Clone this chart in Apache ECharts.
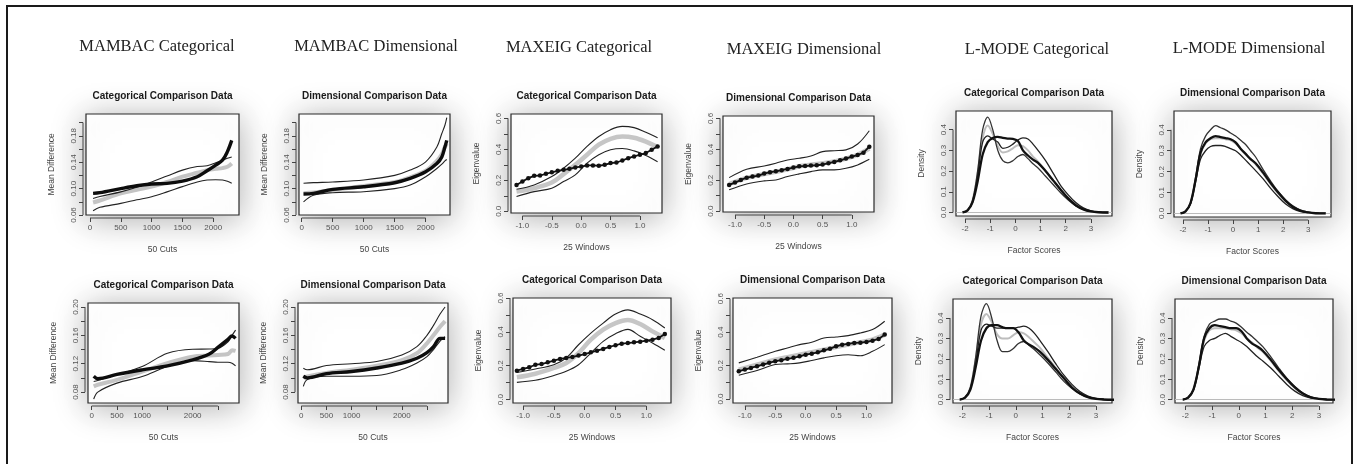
<!DOCTYPE html>
<html>
<head>
<meta charset="utf-8">
<title>Taxometric comparison data</title>
<script src="https://cdn.jsdelivr.net/npm/echarts@6.0.0/dist/echarts.min.js"></script>
<style>
  html, body { margin: 0; padding: 0; background: #fff; }
  #main { width: 1357px; height: 464px; }
</style>
</head>
<body>
<div id="main"></div>
<script>
// ---- MAMBAC (50 cuts) ----
const mambacTopCatX = [50, 160, 500, 760, 1000, 1250, 1500, 1740, 1900, 2040, 2150, 2230, 2300];
const mambacTopCatResearch = [0.0927, 0.0938, 0.1000, 0.1043, 0.1069, 0.1079, 0.1114, 0.1180, 0.1270, 0.1356, 0.1430, 0.1560, 0.1730];
const mambacTopCatMean = [0.079, 0.082, 0.0927, 0.098, 0.103, 0.110, 0.118, 0.124, 0.128, 0.130, 0.131, 0.133, 0.138];
const mambacTopCatUpper = [0.085, 0.088, 0.095, 0.102, 0.110, 0.119, 0.128, 0.1335, 0.1345, 0.139, 0.143, 0.146, 0.148];
const mambacTopCatLower = [0.0665, 0.0716, 0.0776, 0.083, 0.0877, 0.095, 0.103, 0.110, 0.113, 0.1135, 0.113, 0.111, 0.108];

const mambacTopDimX = [30, 190, 500, 1000, 1500, 1750, 2000, 2180, 2260, 2310, 2340];
const mambacTopDimResearch = [0.0917, 0.0927, 0.0988, 0.1028, 0.1089, 0.1154, 0.1255, 0.138, 0.148, 0.163, 0.173];
const mambacTopDimMean = [0.093, 0.094, 0.098, 0.104, 0.110, 0.117, 0.127, 0.142, 0.152, 0.163, 0.168];
const mambacTopDimUpper = [0.108, 0.109, 0.110, 0.113, 0.120, 0.128, 0.1406, 0.163, 0.1834, 0.196, 0.2076];
const mambacTopDimLower = [0.080, 0.090, 0.0938, 0.0953, 0.100, 0.1053, 0.118, 0.1305, 0.137, 0.142, 0.144];

const mambacBotCatX = [40, 120, 500, 1000, 1500, 2000, 2330, 2500, 2700, 2780, 2850];
const mambacBotCatResearch = [0.1023, 0.099, 0.105, 0.1113, 0.1169, 0.1253, 0.1337, 0.143, 0.1543, 0.159, 0.1557];
const mambacBotCatMean = [0.088, 0.0903, 0.0973, 0.109, 0.1207, 0.130, 0.1314, 0.1323, 0.1337, 0.139, 0.138];
const mambacBotCatUpper = [0.095, 0.0963, 0.1043, 0.116, 0.1347, 0.1403, 0.1407, 0.1417, 0.151, 0.160, 0.1674];
const mambacBotCatLower = [0.070, 0.080, 0.0926, 0.102, 0.116, 0.1244, 0.123, 0.122, 0.122, 0.1207, 0.117];

const mambacBotDimX = [40, 120, 500, 1000, 1500, 2000, 2300, 2500, 2630, 2760, 2860];
const mambacBotDimResearch = [0.1023, 0.100, 0.106, 0.109, 0.1139, 0.1207, 0.1277, 0.1356, 0.144, 0.1557, 0.1557];
const mambacBotDimMean = [0.100, 0.102, 0.107, 0.1116, 0.117, 0.125, 0.1347, 0.1487, 0.160, 0.172, 0.180];
const mambacBotDimUpper = [0.1137, 0.1114, 0.1174, 0.120, 0.123, 0.1323, 0.144, 0.160, 0.174, 0.190, 0.200];
const mambacBotDimLower = [0.088, 0.0977, 0.1023, 0.1023, 0.1033, 0.1117, 0.121, 0.130, 0.140, 0.152, 0.158];

// ---- MAXEIG (25 windows) ----
const maxeigWindows = [-1.1, -1.0, -0.9, -0.8, -0.7, -0.6, -0.5, -0.4, -0.3, -0.2, -0.1, 0.0, 0.1, 0.2, 0.3, 0.4, 0.5, 0.6, 0.7, 0.8, 0.9, 1.0, 1.1, 1.2, 1.3];
const maxeigEnvX = [-1.1, -0.8, -0.5, -0.3, -0.1, 0.1, 0.3, 0.5, 0.7, 0.9, 1.1, 1.3];

const maxeigTopCatResearch = [0.170, 0.192, 0.214, 0.229, 0.231, 0.242, 0.252, 0.261, 0.268, 0.274, 0.283, 0.289, 0.296, 0.296, 0.294, 0.300, 0.311, 0.315, 0.328, 0.343, 0.354, 0.365, 0.376, 0.397, 0.419];
const maxeigTopCatMean = [0.127, 0.149, 0.186, 0.240, 0.300, 0.365, 0.430, 0.468, 0.483, 0.475, 0.450, 0.415];
const maxeigTopCatUpper = [0.142, 0.170, 0.224, 0.278, 0.343, 0.419, 0.483, 0.527, 0.548, 0.540, 0.510, 0.475];
const maxeigTopCatLower = [0.095, 0.127, 0.149, 0.192, 0.235, 0.311, 0.365, 0.397, 0.405, 0.390, 0.360, 0.320];

const maxeigTopDimResearch = [0.170, 0.185, 0.202, 0.217, 0.224, 0.230, 0.243, 0.252, 0.258, 0.265, 0.273, 0.282, 0.290, 0.292, 0.295, 0.297, 0.301, 0.310, 0.318, 0.329, 0.340, 0.353, 0.363, 0.378, 0.417];
const maxeigTopDimMean = [0.175, 0.215, 0.240, 0.255, 0.270, 0.290, 0.300, 0.310, 0.322, 0.340, 0.365, 0.405];
const maxeigTopDimUpper = [0.217, 0.271, 0.292, 0.310, 0.331, 0.342, 0.357, 0.385, 0.391, 0.396, 0.434, 0.520];
const maxeigTopDimLower = [0.138, 0.176, 0.196, 0.202, 0.224, 0.241, 0.256, 0.267, 0.267, 0.277, 0.299, 0.335];

const maxeigBotCatResearch = [0.171, 0.181, 0.191, 0.206, 0.210, 0.220, 0.230, 0.240, 0.246, 0.252, 0.260, 0.269, 0.279, 0.289, 0.299, 0.311, 0.321, 0.330, 0.334, 0.338, 0.342, 0.348, 0.354, 0.364, 0.387];
const maxeigBotCatMean = [0.132, 0.153, 0.187, 0.216, 0.275, 0.354, 0.413, 0.452, 0.470, 0.446, 0.403, 0.364];
const maxeigBotCatUpper = [0.161, 0.181, 0.206, 0.246, 0.324, 0.393, 0.452, 0.505, 0.530, 0.505, 0.472, 0.423];
const maxeigBotCatLower = [0.102, 0.114, 0.142, 0.167, 0.206, 0.275, 0.344, 0.389, 0.415, 0.374, 0.334, 0.291];

const maxeigBotDimResearch = [0.166, 0.176, 0.186, 0.196, 0.206, 0.216, 0.226, 0.232, 0.240, 0.246, 0.255, 0.265, 0.271, 0.279, 0.291, 0.301, 0.315, 0.325, 0.329, 0.335, 0.337, 0.341, 0.349, 0.359, 0.385];
const maxeigBotDimMean = [0.175, 0.205, 0.235, 0.250, 0.265, 0.280, 0.295, 0.310, 0.325, 0.340, 0.355, 0.385];
const maxeigBotDimUpper = [0.216, 0.250, 0.285, 0.305, 0.325, 0.339, 0.365, 0.371, 0.379, 0.395, 0.415, 0.465];
const maxeigBotDimLower = [0.142, 0.170, 0.206, 0.210, 0.216, 0.230, 0.246, 0.259, 0.265, 0.259, 0.285, 0.325];

// ---- L-MODE (factor score densities) ----
const lmodeX = [-2.1, -1.9, -1.7, -1.5, -1.3, -1.1, -0.9, -0.7, -0.5, -0.3, -0.1, 0.1, 0.3, 0.5, 0.7, 0.9, 1.2, 1.5, 1.8, 2.1, 2.4, 2.7, 3.0, 3.3, 3.7];

const lmodeTopCatPeak = [0, 0.01, 0.06, 0.20, 0.40, 0.46, 0.40, 0.30, 0.25, 0.24, 0.25, 0.27, 0.28, 0.26, 0.235, 0.215, 0.175, 0.135, 0.095, 0.06, 0.032, 0.015, 0.005, 0.002, 0];
const lmodeTopCatMean = [0, 0.01, 0.06, 0.19, 0.36, 0.42, 0.38, 0.32, 0.29, 0.295, 0.31, 0.325, 0.32, 0.30, 0.27, 0.245, 0.20, 0.155, 0.11, 0.07, 0.04, 0.018, 0.007, 0.002, 0];
const lmodeTopCatSecond = [0, 0.01, 0.05, 0.18, 0.34, 0.37, 0.355, 0.34, 0.31, 0.315, 0.33, 0.35, 0.36, 0.355, 0.33, 0.30, 0.25, 0.19, 0.13, 0.085, 0.048, 0.022, 0.008, 0.002, 0];
const lmodeTopCatResearch = [0, 0.01, 0.05, 0.15, 0.28, 0.34, 0.36, 0.365, 0.36, 0.357, 0.355, 0.345, 0.30, 0.275, 0.255, 0.24, 0.20, 0.155, 0.11, 0.068, 0.035, 0.015, 0.005, 0.001, 0];

const lmodeTopDimUpper = [0, 0.01, 0.05, 0.17, 0.31, 0.37, 0.40, 0.42, 0.41, 0.40, 0.385, 0.37, 0.35, 0.33, 0.30, 0.27, 0.21, 0.155, 0.105, 0.065, 0.035, 0.016, 0.006, 0.002, 0];
const lmodeTopDimMean = [0, 0.01, 0.05, 0.16, 0.285, 0.335, 0.355, 0.36, 0.36, 0.355, 0.35, 0.335, 0.31, 0.285, 0.26, 0.235, 0.19, 0.14, 0.095, 0.058, 0.03, 0.013, 0.005, 0.001, 0];
const lmodeTopDimLower = [0, 0.01, 0.045, 0.15, 0.26, 0.30, 0.32, 0.325, 0.325, 0.32, 0.31, 0.30, 0.28, 0.255, 0.23, 0.205, 0.165, 0.12, 0.08, 0.045, 0.022, 0.009, 0.003, 0.001, 0];
const lmodeTopDimResearch = [0, 0.01, 0.05, 0.16, 0.29, 0.34, 0.36, 0.37, 0.365, 0.36, 0.355, 0.34, 0.31, 0.285, 0.26, 0.24, 0.195, 0.145, 0.10, 0.06, 0.03, 0.013, 0.005, 0.001, 0];

const lmodeBotCatPeak = [0, 0.01, 0.06, 0.21, 0.41, 0.47, 0.40, 0.29, 0.235, 0.235, 0.25, 0.275, 0.285, 0.265, 0.245, 0.22, 0.18, 0.135, 0.09, 0.055, 0.028, 0.012, 0.004, 0.001, 0];
const lmodeBotCatMean = [0, 0.01, 0.06, 0.20, 0.37, 0.42, 0.38, 0.32, 0.30, 0.30, 0.315, 0.33, 0.325, 0.305, 0.28, 0.255, 0.205, 0.155, 0.105, 0.065, 0.035, 0.015, 0.005, 0.001, 0];
const lmodeBotCatSecond = [0, 0.01, 0.05, 0.18, 0.34, 0.37, 0.36, 0.35, 0.35, 0.35, 0.35, 0.355, 0.36, 0.35, 0.325, 0.29, 0.235, 0.175, 0.12, 0.075, 0.04, 0.018, 0.006, 0.002, 0];
const lmodeBotCatResearch = [0, 0.01, 0.05, 0.16, 0.29, 0.35, 0.365, 0.365, 0.355, 0.35, 0.35, 0.33, 0.29, 0.27, 0.255, 0.235, 0.195, 0.15, 0.105, 0.06, 0.03, 0.012, 0.004, 0.001, 0];

const lmodeBotDimUpper = [0, 0.01, 0.05, 0.17, 0.31, 0.37, 0.385, 0.395, 0.395, 0.385, 0.375, 0.355, 0.33, 0.31, 0.285, 0.26, 0.21, 0.155, 0.105, 0.065, 0.033, 0.014, 0.005, 0.001, 0];
const lmodeBotDimMean = [0, 0.01, 0.05, 0.16, 0.29, 0.34, 0.35, 0.35, 0.35, 0.345, 0.34, 0.325, 0.30, 0.28, 0.255, 0.235, 0.19, 0.14, 0.095, 0.057, 0.028, 0.011, 0.004, 0.001, 0];
const lmodeBotDimLower = [0, 0.01, 0.045, 0.15, 0.26, 0.29, 0.30, 0.315, 0.325, 0.31, 0.295, 0.28, 0.26, 0.235, 0.21, 0.19, 0.155, 0.115, 0.075, 0.042, 0.02, 0.008, 0.003, 0.001, 0];
const lmodeBotDimResearch = [0, 0.01, 0.05, 0.16, 0.30, 0.35, 0.365, 0.36, 0.355, 0.35, 0.35, 0.335, 0.30, 0.275, 0.26, 0.24, 0.195, 0.145, 0.10, 0.06, 0.03, 0.012, 0.004, 0.001, 0];

// ---- tick values and labelled ticks ----
const mambacTopXTicks = [0, 500, 1000, 1500, 2000];
const mambacTopYTicks = [0.06, 0.08, 0.10, 0.12, 0.14, 0.16, 0.18, 0.20];
const mambacTopYLabels = [0.06, 0.10, 0.14, 0.18];
const mambacBotXTicks = [0, 500, 1000, 1500, 2000, 2500];
const mambacBotXLabels = [0, 500, 1000, 2000];
const mambacBotYTicks = [0.08, 0.10, 0.12, 0.14, 0.16, 0.18, 0.20];
const mambacBotYLabels = [0.08, 0.12, 0.16, 0.20];
const maxeigXTicks = [-1.0, -0.5, 0.0, 0.5, 1.0];
const maxeigYTicks = [0, 0.1, 0.2, 0.3, 0.4, 0.5, 0.6];
const maxeigYLabels = [0, 0.2, 0.4, 0.6];
const lmodeXTicks = [-2, -1, 0, 1, 2, 3];
const lmodeYTicks = [0, 0.1, 0.2, 0.3, 0.4];

const columnHeaders = ['MAMBAC Categorical', 'MAMBAC Dimensional', 'MAXEIG Categorical', 'MAXEIG Dimensional', 'L-MODE Categorical', 'L-MODE Dimensional'];

const SANS = '"Liberation Sans", Arial, sans-serif';
const SERIF = '"Liberation Serif", "Times New Roman", serif';
const AX_OFF = 3;

// box = [left, top, width, height] of each plot region
const panels = [
  { box: [86, 114, 153, 101], kind: 'mambac', sub: 'Categorical Comparison Data', xr: [-65, 2418], yr: [0.06, 0.213],
    xTicks: mambacTopXTicks, xLabels: mambacTopXTicks, yTicks: mambacTopYTicks, yLabels: mambacTopYLabels, xDec: 0, yDec: 2,
    x: mambacTopCatX, envX: mambacTopCatX, lines: [mambacTopCatMean, mambacTopCatUpper, mambacTopCatLower, mambacTopCatResearch] },
  { box: [299, 114, 151, 101], kind: 'mambac', sub: 'Dimensional Comparison Data', xr: [-43, 2392], yr: [0.06, 0.213],
    xTicks: mambacTopXTicks, xLabels: mambacTopXTicks, yTicks: mambacTopYTicks, yLabels: mambacTopYLabels, xDec: 0, yDec: 2,
    x: mambacTopDimX, envX: mambacTopDimX, lines: [mambacTopDimMean, mambacTopDimUpper, mambacTopDimLower, mambacTopDimResearch] },
  { box: [511, 114, 151, 99], kind: 'maxeig', sub: 'Categorical Comparison Data', xr: [-1.194, 1.375], yr: [-0.011, 0.628],
    xTicks: maxeigXTicks, xLabels: maxeigXTicks, yTicks: maxeigYTicks, yLabels: maxeigYLabels, xDec: 1, yDec: 1,
    x: maxeigWindows, envX: maxeigEnvX, lines: [maxeigTopCatMean, maxeigTopCatUpper, maxeigTopCatLower, maxeigTopCatResearch] },
  { box: [723, 116, 151, 96], kind: 'maxeig', sub: 'Dimensional Comparison Data', xr: [-1.205, 1.38], yr: [-0.005, 0.615],
    xTicks: maxeigXTicks, xLabels: maxeigXTicks, yTicks: maxeigYTicks, yLabels: maxeigYLabels, xDec: 1, yDec: 1,
    x: maxeigWindows, envX: maxeigEnvX, lines: [maxeigTopDimMean, maxeigTopDimUpper, maxeigTopDimLower, maxeigTopDimResearch] },
  { box: [956, 111, 156, 105], kind: 'lmode', sub: 'Categorical Comparison Data', xr: [-2.36, 3.84], yr: [-0.017, 0.49],
    xTicks: lmodeXTicks, xLabels: lmodeXTicks, yTicks: lmodeYTicks, yLabels: lmodeYTicks, xDec: 0, yDec: 1,
    x: lmodeX, envX: lmodeX, lines: [lmodeTopCatMean, lmodeTopCatPeak, lmodeTopCatSecond, lmodeTopCatResearch] },
  { box: [1174, 111, 157, 106], kind: 'lmode', sub: 'Dimensional Comparison Data', xr: [-2.36, 3.91], yr: [-0.017, 0.49],
    xTicks: lmodeXTicks, xLabels: lmodeXTicks, yTicks: lmodeYTicks, yLabels: lmodeYTicks, xDec: 0, yDec: 1,
    x: lmodeX, envX: lmodeX, lines: [lmodeTopDimMean, lmodeTopDimUpper, lmodeTopDimLower, lmodeTopDimResearch] },
  { box: [88, 303, 151, 100], kind: 'mambac', sub: 'Categorical Comparison Data', xr: [-73, 2918], yr: [0.0646, 0.2056],
    xTicks: mambacBotXTicks, xLabels: mambacBotXLabels, yTicks: mambacBotYTicks, yLabels: mambacBotYLabels, xDec: 0, yDec: 2,
    x: mambacBotCatX, envX: mambacBotCatX, lines: [mambacBotCatMean, mambacBotCatUpper, mambacBotCatLower, mambacBotCatResearch] },
  { box: [298, 303, 150, 100], kind: 'mambac', sub: 'Dimensional Comparison Data', xr: [-66, 2918], yr: [0.0646, 0.2056],
    xTicks: mambacBotXTicks, xLabels: mambacBotXLabels, yTicks: mambacBotYTicks, yLabels: mambacBotYLabels, xDec: 0, yDec: 2,
    x: mambacBotDimX, envX: mambacBotDimX, lines: [mambacBotDimMean, mambacBotDimUpper, mambacBotDimLower, mambacBotDimResearch] },
  { box: [513, 298, 158, 105], kind: 'maxeig', sub: 'Categorical Comparison Data', xr: [-1.163, 1.40], yr: [-0.02, 0.60],
    xTicks: maxeigXTicks, xLabels: maxeigXTicks, yTicks: maxeigYTicks, yLabels: maxeigYLabels, xDec: 1, yDec: 1,
    x: maxeigWindows, envX: maxeigEnvX, lines: [maxeigBotCatMean, maxeigBotCatUpper, maxeigBotCatLower, maxeigBotCatResearch] },
  { box: [733, 298, 159, 105], kind: 'maxeig', sub: 'Dimensional Comparison Data', xr: [-1.195, 1.42], yr: [-0.024, 0.604],
    xTicks: maxeigXTicks, xLabels: maxeigXTicks, yTicks: maxeigYTicks, yLabels: maxeigYLabels, xDec: 1, yDec: 1,
    x: maxeigWindows, envX: maxeigEnvX, lines: [maxeigBotDimMean, maxeigBotDimUpper, maxeigBotDimLower, maxeigBotDimResearch] },
  { box: [953, 299, 159, 104], kind: 'lmode', sub: 'Categorical Comparison Data', xr: [-2.35, 3.6], yr: [-0.016, 0.493],
    xTicks: lmodeXTicks, xLabels: lmodeXTicks, yTicks: lmodeYTicks, yLabels: lmodeYTicks, xDec: 0, yDec: 1,
    x: lmodeX, envX: lmodeX, lines: [lmodeBotCatMean, lmodeBotCatPeak, lmodeBotCatSecond, lmodeBotCatResearch] },
  { box: [1175, 299, 158, 104], kind: 'lmode', sub: 'Dimensional Comparison Data', xr: [-2.39, 3.53], yr: [-0.016, 0.493],
    xTicks: lmodeXTicks, xLabels: lmodeXTicks, yTicks: lmodeYTicks, yLabels: lmodeYTicks, xDec: 0, yDec: 1,
    x: lmodeX, envX: lmodeX, lines: [lmodeBotDimMean, lmodeBotDimUpper, lmodeBotDimLower, lmodeBotDimResearch] }
];

const kindInfo = {
  mambac: { xName: '50 Cuts', yName: 'Mean Difference' },
  maxeig: { xName: '25 Windows', yName: 'Eigenvalue' },
  lmode: { xName: 'Factor Scores', yName: 'Density' }
};

// line looks: [mean, envelope 1, envelope 2, research]
const lineLooks = {
  mambac: [{ color: '#c4c4c4', width: 4 }, { color: '#222', width: 1.1 }, { color: '#222', width: 1.1 }, { color: '#0d0d0d', width: 3.4 }],
  maxeig: [{ color: '#c6c6c6', width: 4.5 }, { color: '#222', width: 1.1 }, { color: '#222', width: 1.1 }, { color: '#111', width: 1.8 }],
  lmode: [{ color: '#bdbdbd', width: 2 }, { color: '#333', width: 1.3 }, { color: '#222', width: 1.3 }, { color: '#111', width: 2.3 }]
};

const headerPos = [[157, 47], [376, 47], [579, 48], [804, 50], [1037, 50], [1249, 49]];

function fmt(dec) {
  return v => dec === 0 ? String(Math.round(v)) : Number(v).toFixed(dec);
}
function pairs(xs, ys) {
  return xs.map((x, i) => [x, ys[i]]);
}

const chart = echarts.init(document.getElementById('main'));

const grid = [], xAxis = [], yAxis = [], series = [];
panels.forEach((p, i) => {
  const [left, top, w, h] = p.box;
  grid.push({
    left: left, top: top, width: w, height: h,
    show: true, backgroundColor: '#fff', borderColor: '#2a2a2a', borderWidth: 1.2,
    shadowBlur: 32, shadowColor: 'rgba(0,0,0,0.32)', shadowOffsetY: 4
  });
  xAxis.push({
    type: 'value', gridIndex: i, min: p.xr[0], max: p.xr[1], offset: AX_OFF, position: 'bottom',
    name: kindInfo[p.kind].xName, nameLocation: 'middle', nameGap: 27,
    nameTextStyle: { fontSize: 8.5, color: '#444', fontFamily: SANS },
    splitLine: { show: false }, axisLine: { show: false, onZero: false },
    axisTick: { show: true, length: 4, customValues: p.xTicks, lineStyle: { color: '#444' } },
    axisLabel: { customValues: p.xLabels, formatter: fmt(p.xDec), fontSize: 8, color: '#555', fontFamily: SANS, margin: 6 }
  });
  yAxis.push({
    type: 'value', gridIndex: i, min: p.yr[0], max: p.yr[1], offset: AX_OFF, position: 'left',
    name: kindInfo[p.kind].yName, nameLocation: 'middle', nameGap: 27, nameRotate: 90,
    nameTextStyle: { fontSize: 8.5, color: '#444', fontFamily: SANS },
    splitLine: { show: false }, axisLine: { show: false, onZero: false },
    axisTick: { show: true, length: 4, customValues: p.yTicks, lineStyle: { color: '#444' } },
    axisLabel: { customValues: p.yLabels, formatter: fmt(p.yDec), rotate: 90, fontSize: 8, color: '#555', fontFamily: SANS, margin: 5 }
  });
  const looks = lineLooks[p.kind];
  p.lines.forEach((ys, k) => {
    const isResearch = k === 3;
    const xs = isResearch || p.kind === 'lmode' ? p.x : p.envX;
    const s = {
      type: 'line', xAxisIndex: i, yAxisIndex: i,
      data: pairs(xs, ys),
      showSymbol: false, symbol: 'none',
      smooth: (p.kind === 'maxeig' && isResearch) ? false : 0.35,
      lineStyle: { color: looks[k].color, width: looks[k].width },
      silent: true, z: 2 + k
    };
    if (p.kind === 'maxeig' && isResearch) {
      s.symbol = 'circle';
      s.showSymbol = true;
      s.symbolSize = 4.5;
      s.itemStyle = { color: '#111' };
    }
    if (p.kind === 'lmode' && k === 0) {
      s.markLine = {
        silent: true, symbol: 'none', label: { show: false },
        lineStyle: { color: '#bbb', width: 1, type: 'solid' },
        data: [{ yAxis: 0 }]
      };
    }
    series.push(s);
  });
});

const baseGraphic = [
  { id: 'frame', type: 'rect', shape: { x: 7, y: 6, width: 1345, height: 480 },
    style: { fill: 'none', stroke: '#1a1a1a', lineWidth: 2 }, z: 100 }
];
columnHeaders.forEach((t, i) => {
  baseGraphic.push({
    id: 'head' + i, type: 'text', x: headerPos[i][0], y: headerPos[i][1],
    style: { text: t, font: '16.5px ' + SERIF, fill: '#222', align: 'center', verticalAlign: 'middle' }, z: 100
  });
});
panels.forEach((p, i) => {
  const [left, top, w] = p.box;
  baseGraphic.push({
    id: 'sub' + i, type: 'text', x: left + w / 2, y: top - 18,
    style: { text: p.sub, font: 'bold 10px ' + SANS, fill: '#1a1a1a', align: 'center', verticalAlign: 'middle' }, z: 100
  });
});

chart.setOption({
  animation: false,
  backgroundColor: '#fff',
  grid: grid, xAxis: xAxis, yAxis: yAxis, series: series,
  graphic: baseGraphic
});

// R-style axis lines spanning first to last tick, placed through the axes' own scales
const axisLines = [];
panels.forEach((p, i) => {
  const [left, top, w, h] = p.box;
  const xa = chart.convertToPixel({ xAxisIndex: i }, p.xTicks[0]);
  const xb = chart.convertToPixel({ xAxisIndex: i }, p.xTicks[p.xTicks.length - 1]);
  const ya = chart.convertToPixel({ yAxisIndex: i }, p.yTicks[0]);
  const yb = chart.convertToPixel({ yAxisIndex: i }, p.yTicks[p.yTicks.length - 1]);
  axisLines.push({ id: 'xl' + i, type: 'line', shape: { x1: xa, y1: top + h + AX_OFF, x2: xb, y2: top + h + AX_OFF },
    style: { stroke: '#444', lineWidth: 1 }, z: 50 });
  axisLines.push({ id: 'yl' + i, type: 'line', shape: { x1: left - AX_OFF, y1: ya, x2: left - AX_OFF, y2: yb },
    style: { stroke: '#444', lineWidth: 1 }, z: 50 });
});
chart.setOption({ graphic: baseGraphic.concat(axisLines) });
</script>
</body>
</html>
